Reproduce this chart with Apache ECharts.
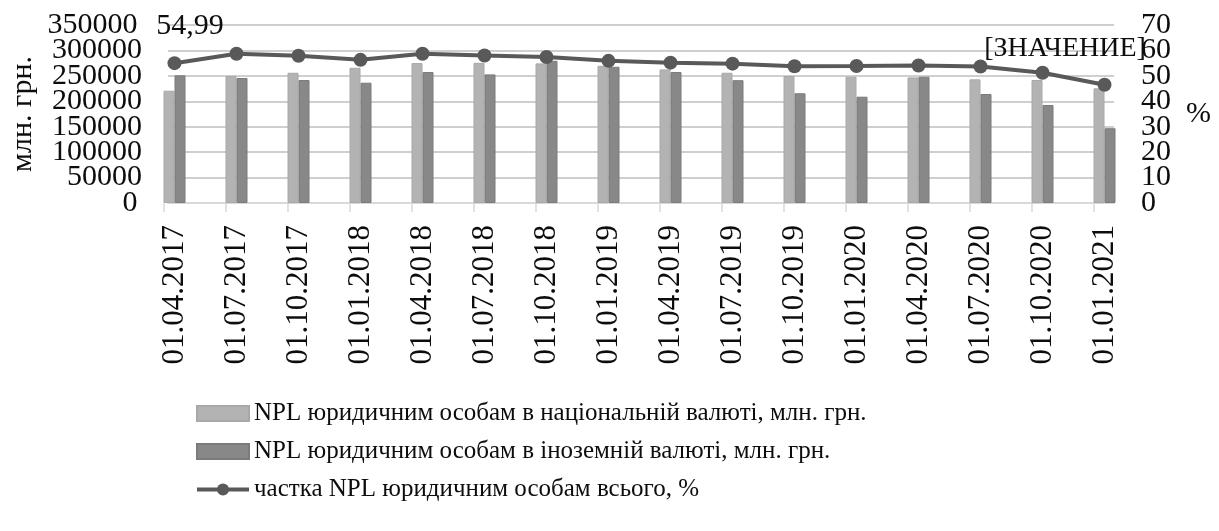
<!DOCTYPE html>
<html>
<head>
<meta charset="utf-8">
<script src="https://cdn.jsdelivr.net/npm/echarts@6/dist/echarts.min.js"></script>
<style>
  html, body { margin: 0; padding: 0; background: #ffffff; }
  #chart { width: 1219px; height: 531px; }
</style>
</head>
<body>
<div id="chart"></div>
<script>
// Quarterly reporting dates
const dates = [
  '01.04.2017', '01.07.2017', '01.10.2017', '01.01.2018',
  '01.04.2018', '01.07.2018', '01.10.2018', '01.01.2019',
  '01.04.2019', '01.07.2019', '01.10.2019', '01.01.2020',
  '01.04.2020', '01.07.2020', '01.10.2020', '01.01.2021'
];

// NPL to legal entities in national currency, mln UAH
const nplNational = [
  220800, 249600, 256100, 265900, 275100, 275700, 274500, 269800,
  262700, 256100, 249600, 248300, 247000, 243100, 241800, 225500
];

// NPL to legal entities in foreign currency, mln UAH
const nplForeign = [
  251000, 245700, 241800, 236500, 257500, 252900, 279600, 267900,
  257500, 241500, 215700, 209000, 248300, 214300, 192700, 147000
];

// Total NPL share for legal entities, %
const nplShare = [
  54.99, 58.7, 57.9, 56.3, 58.7, 58.0, 57.4, 55.9,
  55.2, 54.8, 53.8, 53.9, 54.1, 53.7, 51.2, 46.5
];

// Axis ranges
const amountAxis = { min: 0, max: 350000, step: 50000 };
const shareAxis = { min: 0, max: 70, step: 10 };

const seriesNames = [
  'NPL юридичним особам в національній валюті, млн. грн.',
  'NPL юридичним особам в іноземній валюті, млн. грн.',
  'частка NPL юридичним особам всього, %'
];
const amountTitle = 'млн. грн.';
const shareTitle = '%';
const placeholderLabel = '[ЗНАЧЕНИЕ]';

const FONT = 'Liberation Serif, Times New Roman, serif';
const TEXT = '#0d0d0d';
const GRID_LINE = '#d9d9d9';
const SPLIT_LINE = '#cfcfcf';

// Vertical extent shared by all grids
const plotTop = 25, plotBottom = 328;

// Data labels on the first and last point of the share line
const lineLabels = {
  0: { offset: [15.5, -37], formatter: p => String(p.value).replace('.', ','), fontSize: 30 },
  15: { offset: [-39.5, -36.5], formatter: () => placeholderLabel, fontSize: 28 }
};

const shareData = nplShare.map((v, i) => {
  const l = lineLabels[i];
  if (!l) return v;
  return {
    value: v,
    label: {
      show: true,
      position: 'inside',
      align: 'center',
      verticalAlign: 'middle',
      offset: l.offset,
      formatter: l.formatter,
      fontFamily: FONT,
      fontSize: l.fontSize,
      color: TEXT
    }
  };
});

const plainNumber = v => String(v);

// The tick labels are packed tighter than their font height. Inner labels
// come from the main axis; the two end labels come from a companion axis
// whose only ticks are min and max, so no label gets dropped.
const innerLabels = (margin) => ({
  fontSize: 30, margin: margin, fontFamily: FONT, color: TEXT,
  formatter: plainNumber, showMinLabel: false, showMaxLabel: false, hideOverlap: false
});
const endLabels = (margin) => ({
  fontSize: 30, margin: margin, fontFamily: FONT, color: TEXT,
  formatter: plainNumber, showMinLabel: true, showMaxLabel: true, hideOverlap: false
});

const chart = echarts.init(document.getElementById('chart'), null, { renderer: 'canvas' });

chart.setOption({
  animation: false,
  backgroundColor: '#ffffff',
  textStyle: { fontFamily: FONT, color: TEXT },
  grid: [
    // frame: gridlines and value axes
    { left: 163, right: 105, top: plotTop, bottom: plotBottom },
    // marks and category labels
    { left: 174.5, right: 114.5, top: plotTop, bottom: plotBottom },
    // tick marks between bar groups
    { left: 163.3, right: 125.7, top: plotTop, bottom: plotBottom }
  ],
  xAxis: [
    {
      gridIndex: 0, type: 'category', data: dates, boundaryGap: false,
      axisLine: { show: true, lineStyle: { color: GRID_LINE, width: 2 } },
      axisTick: { show: false }, axisLabel: { show: false },
      splitLine: { show: false }
    },
    {
      gridIndex: 1, type: 'category', data: dates, boundaryGap: false,
      axisLine: { show: false }, axisTick: { show: false },
      axisLabel: {
        rotate: 90, margin: 22, fontSize: 31, fontFamily: FONT, color: TEXT,
        interval: 0
      },
      splitLine: { show: false }
    },
    {
      gridIndex: 2, type: 'category', data: dates, boundaryGap: false,
      axisLine: { show: false },
      axisTick: { show: true, length: 9, interval: 0, lineStyle: { color: GRID_LINE, width: 1.5 } },
      axisLabel: { show: false },
      splitLine: { show: false }
    }
  ],
  yAxis: [
    {
      gridIndex: 0, type: 'value', position: 'left',
      min: amountAxis.min, max: amountAxis.max, interval: amountAxis.step,
      name: amountTitle, nameLocation: 'middle', nameGap: 130,
      nameTextStyle: { fontSize: 30, fontFamily: FONT, color: TEXT },
      axisLine: { show: false }, axisTick: { show: false },
      axisLabel: innerLabels(26),
      splitLine: {
        show: true, showMinLine: true, showMaxLine: true,
        lineStyle: { color: SPLIT_LINE, width: 2, type: 'solid' }
      }
    },
    {
      gridIndex: 0, type: 'value', position: 'right',
      min: shareAxis.min, max: shareAxis.max, interval: shareAxis.step,
      name: shareTitle, nameLocation: 'middle', nameGap: 72, nameRotate: 0,
      nameTextStyle: { fontSize: 30, fontFamily: FONT, color: TEXT },
      axisLine: { show: false }, axisTick: { show: false },
      axisLabel: innerLabels(27),
      splitLine: { show: false }
    },
    {
      gridIndex: 1, type: 'value', show: false,
      min: amountAxis.min, max: amountAxis.max, interval: amountAxis.step,
      splitLine: { show: false }
    },
    {
      gridIndex: 1, type: 'value', show: false,
      min: shareAxis.min, max: shareAxis.max, interval: shareAxis.step,
      splitLine: { show: false }
    },
    {
      gridIndex: 2, type: 'value', position: 'left',
      min: amountAxis.min, max: amountAxis.max, interval: amountAxis.max - amountAxis.min,
      axisLine: { show: false }, axisTick: { show: false },
      axisLabel: endLabels(26 - 0.3),
      splitLine: { show: false }
    },
    {
      gridIndex: 2, type: 'value', position: 'right',
      min: shareAxis.min, max: shareAxis.max, interval: shareAxis.max - shareAxis.min,
      axisLine: { show: false }, axisTick: { show: false },
      axisLabel: endLabels(27 + 20.7),
      splitLine: { show: false }
    }
  ],
  legend: {
    orient: 'vertical',
    left: 190,
    top: 396,
    itemWidth: 52,
    itemHeight: 15,
    itemGap: 13,
    textStyle: { fontSize: 25, lineHeight: 25, fontFamily: FONT, color: TEXT },
    lineStyle: { width: 4 },
    data: [
      { name: seriesNames[0], icon: 'rect' },
      { name: seriesNames[1], icon: 'rect' },
      { name: seriesNames[2] }
    ]
  },
  series: [
    {
      name: seriesNames[0], type: 'bar', xAxisIndex: 1, yAxisIndex: 2,
      data: nplNational, barWidth: 11, barGap: '0%',
      itemStyle: { color: '#b3b3b3', borderColor: '#a8a8a8', borderWidth: 1 }
    },
    {
      name: seriesNames[1], type: 'bar', xAxisIndex: 1, yAxisIndex: 2,
      data: nplForeign, barWidth: 11, barGap: '0%',
      itemStyle: { color: '#888888', borderColor: '#7b7b7b', borderWidth: 1 }
    },
    {
      name: seriesNames[2], type: 'line', xAxisIndex: 1, yAxisIndex: 3,
      data: shareData, z: 5,
      symbol: 'circle', symbolSize: 14,
      lineStyle: { color: '#595959', width: 4 },
      itemStyle: { color: '#595959' },
      label: { show: false }
    }
  ]
});
</script>
</body>
</html>
